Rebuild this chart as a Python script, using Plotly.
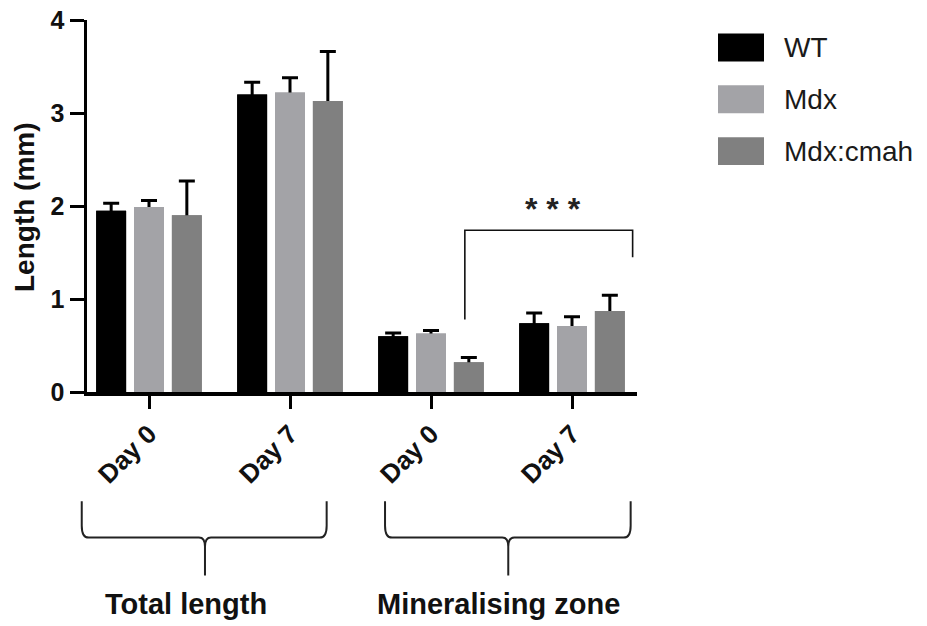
import plotly.graph_objects as go

# ---------------- data ----------------
categories = ["Day 0", "Day 7", "Day 0", "Day 7"]
series_names = ["WT", "Mdx", "Mdx:cmah"]
wt_mean = [1.95, 3.20, 0.60, 0.74]
wt_err = [0.08, 0.13, 0.035, 0.11]
mdx_mean = [1.99, 3.22, 0.63, 0.71]
mdx_err = [0.07, 0.16, 0.03, 0.10]
cmah_mean = [1.90, 3.13, 0.32, 0.87]
cmah_err = [0.37, 0.53, 0.05, 0.17]
y_ticks = [0, 1, 2, 3, 4]
group_labels = ["Total length", "Mineralising zone"]
significance = "* * *"

# ---------------- style ----------------
colors = ["#000000", "#a3a3a7", "#808080"]
FONT = "Liberation Sans, Arial, Helvetica, sans-serif"
W, H = 927, 626
PL, PR, PT, PB = 87, 637, 19.5, 392.5          # plot area in pixels
CAT0, CATSTEP = 149, 141                        # pixel of category 0, px per category
xr = [(PL - CAT0) / CATSTEP, (PR - CAT0) / CATSTEP]


def px_x(px):
    """reference pixel -> paper"""
    return (px - PL) / (PR - PL)


def px_y(py):
    return (PB - py) / (PB - PT)


def dx_paper(x):
    return (x - xr[0]) / (xr[1] - xr[0])


x_idx = list(range(len(categories)))
means = [wt_mean, mdx_mean, cmah_mean]
errs = [wt_err, mdx_err, cmah_err]

fig = go.Figure()
# bars carrying error bars
for name, m, e, c in zip(series_names, means, errs, colors):
    fig.add_trace(go.Bar(
        x=x_idx, y=m, name=name, marker=dict(color=c, line=dict(width=0)),
        offsetgroup=name,
        error_y=dict(type="data", symmetric=False, array=e,
                     arrayminus=[0.06] * len(e), color="#000000",
                     thickness=3, width=8),
        showlegend=False, hoverinfo="skip"))
# same bars again on top to hide the lower part of the error bars
for name, m, c in zip(series_names, means, colors):
    fig.add_trace(go.Bar(
        x=x_idx, y=m, name=name, marker=dict(color=c, line=dict(width=0)),
        offsetgroup=name, showlegend=False, hoverinfo="skip"))

shapes = []
annotations = []

# significance bracket (data coords)
br_x0, br_x1, br_y, br_left_bot, br_right_bot = 2.24, 3.43, 1.74, 0.78, 1.45
shapes.append(dict(type="path", xref="x", yref="y",
                   path=f"M{br_x0},{br_left_bot} L{br_x0},{br_y} L{br_x1},{br_y} L{br_x1},{br_right_bot}",
                   line=dict(color="#111111", width=1.6)))
annotations.append(dict(x=2.865, y=1.97, xref="x", yref="y", text=significance,
                        showarrow=False, yanchor="middle",
                        font=dict(family=FONT, size=32, color="#222222", weight="bold")))


# curly braces under the category groups (x in data units, y in reference pixels)
def brace(xl, xrr, xc, yT=502, yH=538.5, yB=576.5):
    a, b, c = dx_paper(xl), dx_paper(xrr), dx_paper(xc)
    ddx = 7 / (PR - PL)
    tdx = 6 / (PR - PL)
    y_t, y_h, y_b = px_y(yT), px_y(yH), px_y(yB)
    y_h10 = px_y(yH - 12)
    y_h9 = px_y(yH + 9)
    return (f"M{a},{y_t} L{a},{y_h10} Q{a},{y_h} {a + ddx},{y_h} "
            f"L{c - tdx},{y_h} Q{c},{y_h} {c},{y_h9} L{c},{y_b} "
            f"M{c},{y_h9} Q{c},{y_h} {c + tdx},{y_h} "
            f"L{b - ddx},{y_h} Q{b},{y_h} {b},{y_h10} L{b},{y_t}")


brace_spans = [(-0.477, 1.260, 0.397), (1.674, 3.416, 2.548)]
label_centers_px = [186, 498]
for (xl, xrr, xc), lab, lc in zip(brace_spans, group_labels, label_centers_px):
    shapes.append(dict(type="path", xref="paper", yref="paper", path=brace(xl, xrr, xc),
                       line=dict(color="#222222", width=2)))
    annotations.append(dict(x=px_x(lc), y=px_y(605), xref="paper", yref="paper", text=lab,
                            showarrow=False, xanchor="center", yanchor="middle",
                            font=dict(family=FONT, size=29, color="#111111", weight="bold")))

# manual legend
for i, (name, c) in enumerate(zip(series_names, colors)):
    cy = 47 + 52 * i
    shapes.append(dict(type="rect", xref="paper", yref="paper",
                       x0=px_x(718), x1=px_x(764), y0=px_y(cy - 14), y1=px_y(cy + 14),
                       fillcolor=c, line=dict(width=0)))
    annotations.append(dict(x=px_x(782), y=px_y(cy), xref="paper", yref="paper", text=name,
                            showarrow=False, xanchor="left", yanchor="middle",
                            font=dict(family=FONT, size=28, color="#1a1a1a")))

# y-axis title
annotations.append(dict(x=px_x(25), y=px_y(207), xref="paper", yref="paper",
                        text="Length (mm)", textangle=-90, showarrow=False,
                        xanchor="center", yanchor="middle",
                        font=dict(family=FONT, size=28, color="#111111", weight="bold")))

fig.update_layout(
    width=W, height=H, autosize=False,
    margin=dict(l=PL, r=W - PR, t=PT, b=H - PB, pad=0),
    paper_bgcolor="white", plot_bgcolor="white",
    barmode="group", bargap=0.195, bargroupgap=0.21,
    showlegend=False,
    shapes=shapes, annotations=annotations,
    font=dict(family=FONT, color="#111111"),
)
fig.update_xaxes(
    range=xr, tickmode="array", tickvals=x_idx, ticktext=categories,
    tickangle=-45, tickfont=dict(family=FONT, size=26, color="#111111", weight="bold"),
    showline=True, linecolor="#000000", linewidth=3.5,
    ticks="outside", ticklen=13, tickwidth=3, tickcolor="#000000",
    showgrid=False, zeroline=False, automargin=False, ticklabeloverflow="allow",
)
fig.update_yaxes(
    range=[0, 4], tickmode="array", tickvals=y_ticks,
    tickfont=dict(family=FONT, size=25, color="#111111", weight="bold"),
    showline=True, linecolor="#000000", linewidth=3.5,
    ticks="outside", ticklen=14, tickwidth=3, tickcolor="#000000",
    showgrid=False, zeroline=False, automargin=False, ticklabeloverflow="allow",
)

fig.write_html("out.html",
               config={"displayModeBar": False, "staticPlot": True},
               post_script="document.body.style.margin='0';document.body.style.overflow='hidden';")
